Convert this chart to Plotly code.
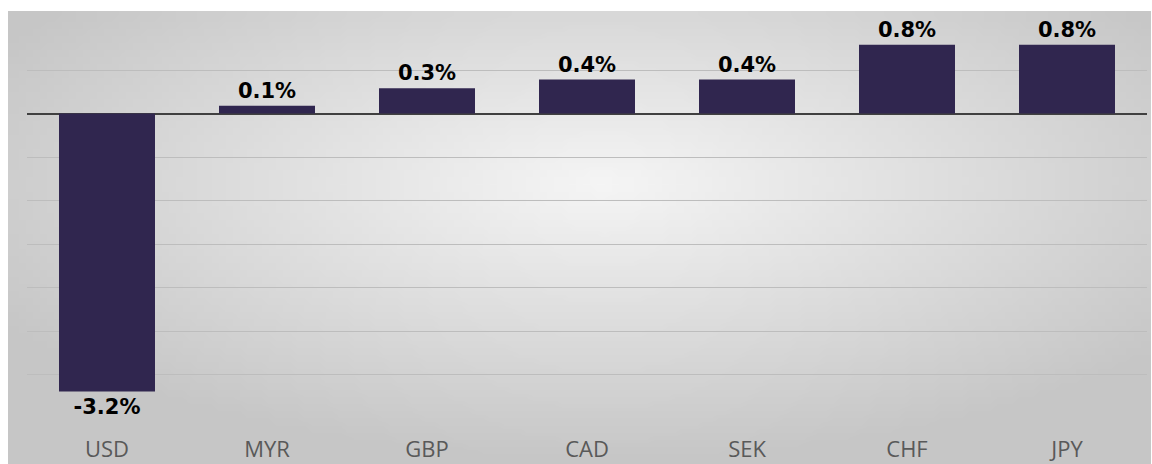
import base64
import struct
import zlib
import plotly.graph_objects as go

# ---- data ----
currencies = ["USD", "MYR", "GBP", "CAD", "SEK", "CHF", "JPY"]
changes = [-3.19, 0.09, 0.29, 0.39, 0.39, 0.79, 0.79]
y_ticks = [-3.5, -3.0, -2.5, -2.0, -1.5, -1.0, -0.5, 0.0, 0.5, 1.0]


# ---- radial grey background as a tiny PNG (style only) ----
def make_png(w, h, cx, cy, inner, outer):
    raw = bytearray()
    for j in range(h):
        raw.append(0)
        for i in range(w):
            dx = (i / (w - 1) - cx) / 0.62
            dy = (j / (h - 1) - cy) / 0.62
            d = min(1.0, (dx * dx + dy * dy) ** 0.5)
            v = inner + (outer - inner) * d
            raw.append(int(round(v)))

    def chunk(tag, data):
        c = struct.pack(">I", len(data)) + tag + data
        return c + struct.pack(">I", zlib.crc32(tag + data) & 0xFFFFFFFF)

    png = b"\x89PNG\r\n\x1a\n"
    png += chunk(b"IHDR", struct.pack(">IIBBBBB", w, h, 8, 0, 0, 0, 0))
    png += chunk(b"IDAT", zlib.compress(bytes(raw), 9))
    png += chunk(b"IEND", b"")
    return "data:image/png;base64," + base64.b64encode(png).decode()


bg = make_png(160, 64, 0.52, 0.38, 245, 198)

W, H = 1152, 464
ml, mr, mt, mb = 27, 5, 26, 45
pw = W - ml - mr
ph = H - mt - mb

fig = go.Figure(
    go.Bar(
        x=currencies,
        y=changes,
        marker=dict(color="#30264f", line=dict(width=0)),
        texttemplate="%{y:.1f}%",
        textposition="outside",
        textfont=dict(family="DejaVu Sans", size=21, color="#000000", weight="bold"),
        cliponaxis=False,
        hoverinfo="skip",
    )
)

fig.add_layout_image(
    dict(
        source=bg,
        xref="paper",
        yref="paper",
        x=(8 - ml) / pw,
        y=1 + (mt - 11) / ph,
        sizex=(1151 - 8) / pw,
        sizey=(H - 11) / ph,
        xanchor="left",
        yanchor="top",
        sizing="stretch",
        layer="below",
    )
)

fig.update_layout(
    width=W,
    height=H,
    margin=dict(l=ml, r=mr, t=mt, b=mb, autoexpand=False),
    paper_bgcolor="#ffffff",
    plot_bgcolor="rgba(0,0,0,0)",
    bargap=0.4,
    showlegend=False,
    xaxis=dict(
        automargin=False,
        showgrid=False,
        showline=False,
        ticks="outside",
        ticklen=11,
        tickcolor="rgba(0,0,0,0)",
        tickfont=dict(family="Open Sans", size=22, color="#595959"),
        fixedrange=True,
    ),
    yaxis=dict(
        automargin=False,
        range=[-3.505, 1.005],
        tickmode="array",
        tickvals=y_ticks,
        showticklabels=False,
        showgrid=True,
        gridcolor="#bdbdbd",
        gridwidth=1,
        zeroline=True,
        zerolinecolor="#404040",
        zerolinewidth=2,
        showline=False,
        fixedrange=True,
    ),
)

fig.write_html(
    "out.html",
    config={"displayModeBar": False},
    post_script="document.body.style.margin='0px';document.body.style.overflow='hidden';",
)
